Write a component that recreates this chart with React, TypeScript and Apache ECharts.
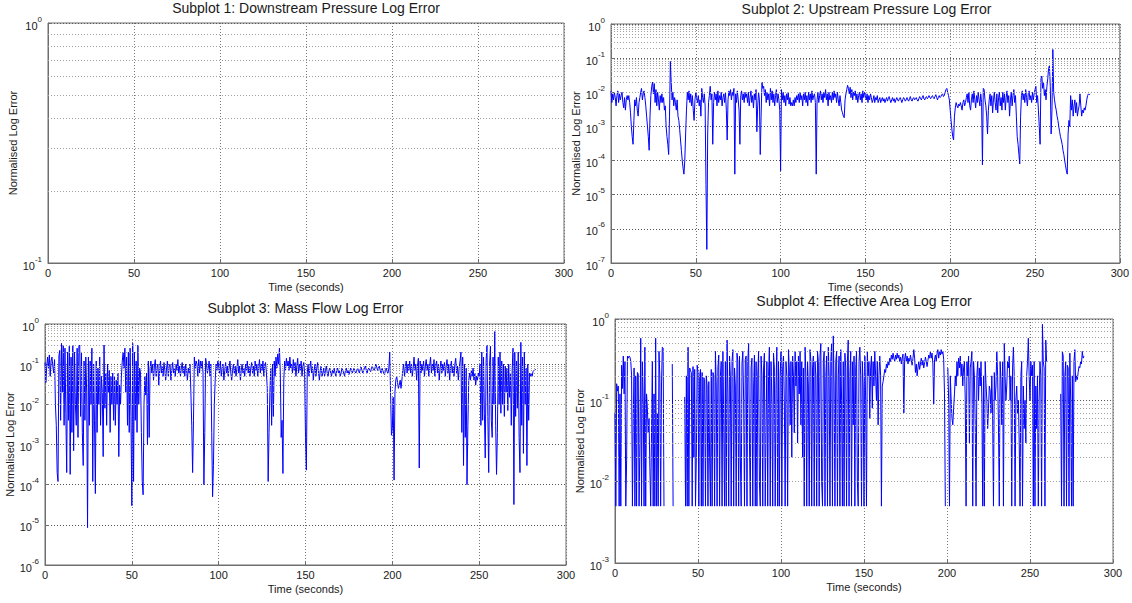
import React, { useEffect, useRef } from "react";
import * as echarts from "echarts";

// ---------------- DATA ----------------
const SAMPLE_STEP = 0.5; // seconds between samples
const F = 0.005; // lower clamp of the effective-area error

const subplotTitles = [
  "Subplot 1: Downstream Pressure Log Error",
  "Subplot 2: Upstream Pressure Log Error",
  "Subplot 3: Mass Flow Log Error",
  "Subplot 4: Effective Area Log Error",
];
const xTickValues = [0, 50, 100, 150, 200, 250, 300];
const yRanges: [number, number][] = [
  [0.1, 1],
  [1e-7, 1],
  [1e-6, 1],
  [1e-3, 1],
];

// Subplot 1: downstream pressure (no samples drawn)
const downstreamError: (number | null)[] = [];

// Subplot 2: upstream pressure, one value per 0.5 s
const upstreamError: (number | null)[] = [
  1.1e-2, 5e-3, 9e-3, 6e-3, 1e-2, 7e-3, 4e-3, 8e-3, 1.1e-2, 5e-3, 9e-3, 6e-3, 8e-3, 1e-2, 5e-3, 3.5e-3, 7e-3, 3e-3, 6e-3, 8e-3,
  6e-3, 8e-3, 5e-3, 2.5e-3, 1e-3, 5e-4, 3e-4, 1.5e-3, 6e-3, 4e-3, 7e-3, 3e-3, 2e-3, 5e-3, 7e-3, 1e-2, 1.3e-2, 6e-3, 9e-3, 1.1e-2,
  7e-3, 4e-3, 2e-3, 1e-3, 5e-4, 2e-4, 2e-3, 8e-3, 1.5e-2, 2e-2, 9e-3, 1.8e-2, 5e-3, 1.2e-2, 4e-3, 1e-2, 6e-3, 3e-3, 8e-3, 5e-3,
  9e-3, 5e-3, 7e-3, 3e-3, 4e-3, 1e-3, 5e-4, 3e-4, 1.5e-4, 2e-3, 8e-2, 2e-2, 6e-3, 1e-2, 4e-3, 7e-3, 5e-3, 3e-3, 6e-3, 2e-3,
  1.5e-3, 8e-4, 4e-4, 2e-4, 1e-4, 6e-5, 4e-5, 1e-4, 6e-4, 3e-3, 1e-2, 6e-3, 1.1e-2, 5e-3, 9e-3, 4e-3, 8e-3, 3e-3, 1.5e-3, 6e-3,
  1e-2, 7e-3, 5e-3, 8e-3, 4e-3, 6e-3, 2e-3, 1.3e-2, 7e-3, 5e-3, 9e-3, 4e-3, 2e-5, 2.5e-7, 6e-4, 5e-3, 8e-3, 1.5e-2, 6e-3, 9e-3,
  3e-4, 5e-3, 1e-2, 6e-3, 9e-3, 4e-3, 1.1e-2, 5e-3, 8e-3, 6e-3, 1e-2, 4e-3, 7e-3, 9e-3, 5e-3, 1e-2, 3e-3, 4e-4, 6e-3, 1.1e-2,
  8e-3, 1.2e-2, 6e-3, 1e-2, 8e-3, 1.3e-2, 4e-5, 9e-3, 5e-3, 1.1e-2, 6e-3, 3e-3, 3e-4, 8e-3, 1.1e-2, 6e-3, 9e-3, 5e-3, 1e-2, 7e-3,
  9e-3, 5e-3, 1e-2, 4e-3, 7e-3, 1.1e-2, 5e-3, 8e-3, 3.5e-3, 9e-3, 6e-3, 1.2e-2, 7e-4, 4e-3, 1e-2, 6e-3, 1.5e-4, 2e-3, 2e-2, 1.3e-2,
  1.5e-2, 8e-3, 1.2e-2, 5e-3, 1e-2, 6e-3, 9e-3, 4e-3, 1.3e-2, 6e-3, 1.1e-2, 5e-3, 9e-3, 4e-3, 8e-3, 1.2e-2, 5e-3, 9e-3, 6e-3, 3e-3,
  5e-5, 1.2e-2, 6e-3, 1e-2, 5e-3, 8e-3, 4e-3, 9e-3, 6e-3, 1e-2, 4.5e-3, 7e-3, 4e-3, 5e-3, 4e-3, 6e-3, 4e-3, 7e-3, 5e-3, 8e-3,
  6e-3, 9e-3, 5e-3, 1e-2, 6e-3, 8e-3, 4e-3, 9e-3, 6e-3, 1e-2, 5e-3, 8e-3, 4e-3, 1e-2, 6e-3, 9e-3, 5e-3, 1.1e-2, 6e-3, 8e-3,
  9e-3, 5e-3, 4e-5, 6e-3, 1e-2, 5e-3, 8e-3, 1.1e-2, 6e-3, 9e-3, 5e-3, 1e-2, 7e-3, 1.2e-2, 6e-3, 9e-3, 4e-3, 1e-2, 6e-3, 8e-3,
  5e-3, 1e-2, 6e-3, 1.1e-2, 7e-3, 9e-3, 5e-3, 1e-2, 6e-3, 4e-3, 8e-3, 5e-3, 3e-3, 2.5e-3, 2e-3, 1.8e-3, 6e-3, 9e-3, 1.2e-2, 1.6e-2,
  1.3e-2, 9e-3, 1.4e-2, 7e-3, 1.2e-2, 6e-3, 1e-2, 8e-3, 1.1e-2, 6e-3, 9e-3, 5e-3, 8e-3, 1e-2, 6e-3, 9e-3, 5e-3, 1.1e-2, 7e-3, 1e-2,
  8e-3, 6e-3, 9e-3, 5e-3, 8e-3, 6e-3, 9e-3, 7e-3, 5e-3, 6e-3, 8e-3, 5e-3, 7e-3, 6e-3, 8e-3, 5e-3, 6e-3, 7e-3, 5e-3, 6e-3,
  7e-3, 5.5e-3, 6.5e-3, 5e-3, 6e-3, 7e-3, 5.5e-3, 6.5e-3, 7.5e-3, 6e-3, 5e-3, 6e-3, 7e-3, 5.5e-3, 6.5e-3, 5e-3, 6e-3, 7e-3, 6e-3, 5.5e-3,
  6.5e-3, 7e-3, 6e-3, 5e-3, 6e-3, 7e-3, 6.5e-3, 5.5e-3, 6e-3, 7e-3, 6e-3, 5.5e-3, 6.5e-3, 7.5e-3, 6e-3, 5.5e-3, 6.5e-3, 7e-3, 6e-3, 6.5e-3,
  7e-3, 6e-3, 5.5e-3, 6.5e-3, 7.5e-3, 6.5e-3, 6e-3, 7e-3, 8e-3, 6.5e-3, 6e-3, 7e-3, 7.5e-3, 6.5e-3, 7e-3, 8e-3, 7e-3, 6.5e-3, 7.5e-3, 8e-3,
  7e-3, 6.5e-3, 7.5e-3, 8.5e-3, 7e-3, 6e-3, 7e-3, 8e-3, 7e-3, 7.5e-3, 8.5e-3, 9e-3, 7.5e-3, 8e-3, 1e-2, 1.2e-2, 1.3e-2, 1e-2, 8e-3, 6e-3,
  3e-3, 1.5e-3, 8e-4, 5e-4, 4e-4, 2e-3, 3.5e-3, 5e-3, 4e-3, 3.5e-3, 4.5e-3, 4e-3, 5e-3, 4e-3, 3e-3, 5e-3, 6e-3, 4e-3, 5e-3, 7e-3,
  9e-3, 5e-3, 1e-2, 4e-3, 3e-3, 6e-3, 9e-3, 5e-3, 1.1e-2, 6e-3, 3.5e-3, 8e-3, 5e-3, 1e-2, 6e-3, 4e-3, 9e-3, 5e-3, 7.5e-5, 1.3e-2,
  1.2e-2, 6e-3, 4e-3, 2e-3, 6e-4, 3e-3, 6e-3, 9e-3, 4e-3, 8e-3, 2.5e-3, 6e-3, 1e-2, 5e-3, 3e-3, 9e-3, 2.5e-3, 7e-3, 1e-2, 4e-3,
  7e-3, 3e-3, 1e-2, 5e-3, 9e-3, 3e-3, 7e-3, 1.1e-2, 5e-3, 8e-3, 2e-3, 6e-3, 1e-2, 4e-3, 8e-3, 1.2e-2, 5e-3, 8e-3, 2e-3, 5e-4,
  3e-4, 1.5e-4, 8e-5, 2e-3, 8e-3, 1.1e-2, 6e-3, 9e-3, 5e-3, 1.2e-2, 7e-3, 4e-3, 9e-3, 1.1e-2, 6e-3, 8e-3, 5e-3, 1e-2, 6e-3, 9e-3,
  1.2e-2, 1.5e-2, 5e-3, 8e-3, 3e-3, 1e-3, 3e-4, 2.5e-2, 3e-2, 1.3e-2, 2e-2, 8e-3, 1.2e-2, 6e-3, 1.5e-2, 2.5e-2, 5e-2, 6e-2, 1.5e-2, 6e-4,
  3e-3, 1.8e-1, 1e-2, 6e-3, 4e-3, 3e-3, 2e-3, 1.5e-3, 1e-3, 7e-4, 5e-4, 4e-4, 3e-4, 2e-4, 1.5e-4, 1e-4, 7e-5, 5e-5, 4e-5, 6e-4,
  1.5e-3, 1e-3, 8e-3, 3e-3, 6e-3, 2e-3, 4e-3, 6e-3, 2.5e-3, 5e-3, 2e-3, 3e-3, 4e-3, 9e-3, 4e-3, 2e-3, 3e-3, 2.5e-3, 3.5e-3, 3e-3,
  4e-3, 6e-3, 8e-3, 9e-3, 8.5e-3, 9e-3,
];

// Subplot 3: mass flow, one value per 0.5 s
const massFlowError: (number | null)[] = [
  0.11, 0.035, 0.09, 0.15, 0.08, 0.17, 0.05, 0.12, 0.15, 0.09, 0.06, 0.13, 0.01, 0.003, 2e-4, 1.2e-4, 0.16, 0.22, 0.004, 0.33,
  0.02, 0.3, 0.003, 0.25, 0.006, 2e-4, 0.2, 0.004, 0.28, 1.8e-4, 0.15, 0.002, 0.3, 7e-4, 0.2, 0.01, 0.003, 0.25, 0.0015, 0.28,
  0.3, 0.005, 0.2, 0.002, 3e-4, 0.12, 0.004, 0.15, 0.02, 8.5e-6, 0.15, 0.003, 0.12, 0.01, 0.25, 1.2e-4, 0.1, 0.004, 6e-5, 0.12,
  0.002, 0.08, 0.01, 0.15, 0.003, 0.05, 0.02, 5e-4, 0.3, 0.008, 0.06, 0.003, 0.1, 0.02, 0.07, 0.002, 0.05, 0.01, 0.06, 0.004,
  0.05, 0.003, 0.04, 0.01, 0.06, 5e-4, 0.03, 0.01, 0.05, 0.12, 0.2, 0.08, 0.25, 0.02, 0.15, 0.003, 0.2, 0.002, 0.25, 0.005,
  3e-5, 0.33, 1.2e-4, 0.2, 0.004, 0.12, 0.002, 0.3, 0.01, 0.08, 0.06, 0.002, 1.2e-4, 5.6e-5, 0.01, 0.05, 0.017, 0.06, 1e-3, 0.12,
  0.0015, 0.08, 0.12, 0.06, 0.1, 0.04, 0.09, 0.13, 0.05, 0.08, 0.1, 0.03, 0.07, 0.12, 0.06, 0.09, 0.05, 0.11, 0.07, 0.04,
  0.08, 0.12, 0.05, 0.09, 0.1, 0.04, 0.07, 0.11, 0.06, 0.08, 0.05, 0.1, 0.07, 0.13, 0.06, 0.09, 0.05, 0.08, 0.11, 0.06,
  0.09, 0.05, 0.1, 0.07, 0.04, 0.08, 0.06, 0.1, 0.02, 0.003, 2e-4, 0.004, 0.15, 0.08, 0.12, 0.1, 0.05, 0.13, 0.06, 0.12,
  0.08, 0.12, 0.06, 1e-4, 0.002, 0.14, 0.1, 0.06, 0.08, 0.12, 0.05, 0.1, 0.002, 5e-5, 3e-4, 0.01, 0.04, 0.1, 0.07, 0.12,
  0.09, 0.06, 0.12, 0.05, 0.08, 0.1, 0.04, 0.07, 0.11, 0.06, 0.09, 0.05, 0.08, 0.12, 0.06, 0.04, 0.07, 0.1, 0.06, 0.09,
  0.05, 0.08, 0.13, 0.06, 0.09, 0.04, 0.07, 0.1, 0.06, 0.08, 0.05, 0.1, 0.07, 0.12, 0.06, 0.09, 0.05, 0.08, 0.11, 0.06,
  0.09, 0.05, 0.12, 0.07, 0.1, 0.05, 0.08, 0.13, 0.06, 0.1, 0.07, 0.12, 0.05, 0.09, 0.11, 0.06, 0.025, 1.2e-4, 0.002, 0.02,
  0.08, 0.003, 0.1, 0.005, 0.12, 0.05, 0.15, 0.08, 0.18, 0.1, 0.25, 0.06, 0.0015, 0.004, 1.9e-4, 0.04, 0.12, 0.07, 0.14, 0.09,
  0.12, 0.07, 0.15, 0.08, 0.1, 0.06, 0.13, 0.07, 0.11, 0.05, 0.09, 0.14, 0.06, 0.1, 0.07, 0.12, 0.05, 0.09, 0.11, 0.06,
  0.0015, 2.3e-4, 0.06, 0.1, 0.05, 0.08, 0.12, 0.06, 0.09, 0.04, 0.07, 0.1, 0.05, 0.08, 0.11, 0.06, 0.04, 0.07, 0.09, 0.05,
  0.06, 0.08, 0.05, 0.07, 0.09, 0.06, 0.05, 0.07, 0.08, 0.06, 0.05, 0.07, 0.06, 0.08, 0.06, 0.05, 0.07, 0.08, 0.06, 0.07,
  0.05, 0.06, 0.08, 0.07, 0.06, 0.05, 0.07, 0.08, 0.06, 0.07, 0.055, 0.065, 0.08, 0.07, 0.06, 0.07, 0.08, 0.065, 0.06, 0.07,
  0.08, 0.07, 0.06, 0.075, 0.085, 0.07, 0.06, 0.07, 0.08, 0.09, 0.07, 0.06, 0.075, 0.08, 0.07, 0.065, 0.08, 0.09, 0.075, 0.07,
  0.08, 0.1, 0.085, 0.07, 0.08, 0.09, 0.07, 0.06, 0.08, 0.07, 0.06, 0.055, 0.07, 0.08, 0.065, 0.06, 0.08, 0.2, 0.017, 1.7e-3,
  2.5e-3, 0.015, 1.3e-4, 0.02, 0.04, 0.05, 0.035, 0.025, 0.03, 0.04, 0.025, 0.04, 0.07, 0.1, 0.05, 0.08, 0.12, 0.06, 0.1, 0.07,
  0.12, 0.06, 0.1, 0.05, 0.08, 0.15, 0.07, 0.1, 0.04, 0.09, 0.14, 2.6e-4, 0.12, 0.06, 0.1, 0.07, 0.12, 0.05, 0.09, 0.13,
  0.07, 0.1, 0.05, 0.09, 0.15, 0.06, 0.1, 0.07, 0.13, 0.05, 0.09, 0.12, 0.06, 0.1, 0.04, 0.08, 0.12, 0.06, 0.1, 0.07,
  0.11, 0.05, 0.09, 0.13, 0.06, 0.1, 0.04, 0.08, 0.12, 0.06, 0.09, 0.05, 0.1, 0.14, 0.06, 0.09, 0.04, 0.08, 0.12, 0.2,
  0.002, 0.15, 3e-4, 0.1, 0.0015, 0.08, 1e-4, 0.003, 0.04, 0.06, 0.04, 0.07, 0.05, 0.08, 0.04, 0.06, 0.03, 0.05, 0.04, 0.06,
  0.05, 0.1, 0.003, 0.2, 0.004, 0.15, 0.006, 4.6e-4, 0.12, 0.3, 0.005, 2e-4, 0.1, 0.28, 0.004, 0.0015, 0.15, 0.01, 0.65, 0.003,
  1.8e-4, 0.002, 0.15, 0.01, 0.2, 0.006, 0.12, 0.01, 0.1, 0.005, 0.09, 0.02, 0.08, 0.007, 0.1, 0.015, 0.06, 0.003, 0.07, 0.25,
  3.2e-5, 0.2, 0.005, 0.12, 0.008, 0.2, 0.0015, 2e-4, 0.35, 0.003, 0.15, 6e-4, 0.2, 0.01, 0.08, 3e-4, 0.1, 0.004, 0.06, 0.05,
  0.06, 0.05, 0.065, 0.07, 0.07, 0.075,
];

// Subplot 4: effective area, one value per 0.5 s (null = no sample)
const effectiveAreaError: (number | null)[] = [
  0.07, F, 0.16, 0.13, 0.15, F, 0.12, F, 0.27, 0.14, 0.35, 0.12, 0.3, F, 0.018, 0.35, 0.33, 0.35, 0.34, 0.3,
  0.2, F, 0.06, 0.25, F, 0.2, F, 0.22, 0.21, F, 0.03, 0.58, F, 0.3, 0.1, F, 0.45, F, 0.12, 0.08,
  0.04, 0.06, 0.015, F, 0.04, 0.3, F, 0.12, F, 0.58, F, 0.07, F, 0.4, 0.2, F, 0.15, 0.45, 0.44, F,
  null, null, null, null, null, null, null, null, null, 0.28, F, null, null, null, null, null, null, null, null, null,
  null, null, null, null, 0.11, F, 0.2, F, 0.45, F, 0.25, 0.23, 0.22, F, 0.26, 0.02, 0.24, F, 0.02, 0.27,
  0.22, F, 0.2, 0.24, F, 0.22, F, 0.19, 0.18, F, 0.2, 0.15, F, 0.17, 0.02, F, 0.24, F, 0.22, 0.2,
  F, 0.4, 0.15, F, 0.25, 0.36, F, 0.2, 0.3, F, 0.4, 0.05, F, 0.3, F, 0.55, 0.12, F, 0.35, 0.2,
  F, 0.3, 0.42, F, 0.25, 0.15, F, 0.38, 0.3, F, 0.35, 0.02, F, 0.28, 0.4, 0.1, F, 0.32, 0.35, F,
  0.3, 0.5, 0.03, F, 0.25, 0.33, F, 0.15, 0.36, F, 0.3, F, 0.2, 0.4, 0.01, F, 0.35, 0.2, F, 0.25,
  0.38, F, 0.05, 0.3, F, 0.2, 0.45, F, 0.3, 0.1, F, 0.38, 0.25, F, 0.15, 0.45, F, 0.3, F, 0.2,
  0.4, F, 0.25, 0.35, 0.1, F, 0.3, 0.2, F, 0.42, 0.25, 0.05, 0.3, 0.02, 0.35, 0.2, 0.04, 0.4, 0.15, 0.3,
  0.03, 0.35, 0.12, 0.4, 0.05, 0.3, 0.02, 0.25, F, 0.45, 0.2, F, 0.3, 0.15, F, 0.42, 0.3, F, 0.25, 0.35,
  F, 0.3, 0.2, F, 0.4, 0.3, F, 0.35, 0.5, 0.01, F, 0.3, 0.4, F, 0.2, 0.35, F, 0.45, 0.2, F,
  0.3, 0.5, F, 0.62, 0.15, F, 0.3, 0.4, F, 0.2, 0.35, F, 0.42, 0.1, F, 0.3, F, 0.38, 0.25, F,
  0.3, 0.55, F, 0.2, 0.4, F, 0.3, 0.05, 0.35, F, 0.25, 0.4, 0.01, F, 0.3, 0.45, 0.2, F, 0.3, 0.15,
  F, 0.35, 0.1, F, 0.4, 0.2, 0.3, 0.06, 0.25, 0.35, 0.08, 0.3, 0.15, 0.4, 0.2, 0.1, 0.3, 0.05, 0.2, 0.35,
  0.2, F, 0.15, 0.17, 0.2, 0.24, 0.22, 0.28, 0.25, 0.3, 0.27, 0.33, 0.3, 0.36, 0.32, 0.38, 0.33, 0.3, 0.36, 0.32,
  0.38, 0.33, 0.36, 0.3, 0.34, 0.28, 0.33, 0.37, 0.07, 0.32, 0.38, 0.3, 0.35, 0.28, 0.33, 0.3, 0.36, 0.31, 0.27, 0.33,
  0.42, 0.33, 0.22, 0.28, 0.2, 0.25, 0.3, 0.24, 0.28, 0.33, 0.27, 0.31, 0.25, 0.29, 0.34, 0.3, 0.26, 0.31, 0.36, 0.33,
  0.4, 0.33, 0.38, 0.28, 0.09, 0.32, 0.36, 0.3, 0.38, 0.42, 0.33, 0.4, 0.36, 0.42, 0.37, 0.4, 0.32, 0.12, F, null,
  null, 0.25, 0.1, F, 0.2, 0.1, 0.06, 0.05, 0.08, 0.12, 0.2, 0.15, 0.3, 0.2, 0.33, 0.25, 0.35, 0.2, 0.28, 0.15,
  0.25, 0.3, 0.1, F, 0.3, 0.2, 0.35, 0.03, 0.25, 0.3, 0.4, F, 0.3, 0.2, 0.05, F, 0.2, 0.3, 0.1, 0.25,
  0.15, 0.3, 0.1, F, 0.2, F, 0.3, 0.16, 0.1, 0.045, 0.08, 0.15, 0.13, 0.07, 0.2, 0.065, F, 0.22, 0.1, 0.15,
  0.4, 0.2, 0.05, F, 0.3, 0.18, 0.05, 0.3, F, 0.5, 0.2, 0.1, 0.15, 0.3, 0.25, 0.35, 0.1, 0.2, F, 0.25,
  0.45, 0.2, F, 0.1, 0.15, 0.07, 0.1, 0.03, F, 0.2, 0.3, F, 0.15, 0.045, 0.1, 0.03, 0.2, 0.3, 0.58, 0.2,
  0.1, 0.3, 0.2, 0.27, F, 0.3, F, 0.15, 0.045, 0.2, F, 0.1, 0.3, 0.2, F, 0.86, 0.3, 0.25, F, 0.55,
  0.3, null, null, null, null, null, null, null, null, null, null, null, null, null, null, null, null, 0.12, F, 0.4,
  0.35, F, 0.2, 0.3, F, 0.27, 0.25, F, 0.38, 0.1, F, 0.2, F, 0.3, 0.42, 0.17, 0.2, 0.18, 0.22, 0.26,
  0.25, 0.3, 0.28, 0.4, 0.33, 0.35,
];

const seriesValues = [downstreamError, upstreamError, massFlowError, effectiveAreaError];

// ---------------- LAYOUT / STYLE ----------------
const FONT = "'Liberation Sans', Arial, Helvetica, sans-serif";
const TXT = "#1a1a1a";
const FRAME = "#6e6e6e";
const LINE_BLUE = "#0000ff";

const GRIDS = [
  { left: 48, top: 23, width: 516, height: 240 },
  { left: 611, top: 24, width: 511, height: 239 },
  { left: 45, top: 324, width: 521, height: 241 },
  { left: 615, top: 319, width: 498, height: 244 },
];
const TITLE_TOPS = [1, 2, 301, 294];

function minorValues(range: [number, number]): number[] {
  const out: number[] = [];
  const e0 = Math.round(Math.log10(range[0]));
  const e1 = Math.round(Math.log10(range[1]));
  for (let e = e0; e < e1; e++) {
    for (let m = 2; m <= 9; m++) out.push(Number((m * Math.pow(10, e)).toPrecision(3)));
  }
  return out;
}

function toPairs(values: (number | null)[]) {
  return values.map((v, i) => [i * SAMPLE_STEP, v === null ? "-" : v]);
}

function buildOption() {
  const grid = GRIDS.map((g) => ({
    ...g,
    show: true,
    borderColor: FRAME,
    borderWidth: 1,
    backgroundColor: "#ffffff",
    containLabel: false,
  }));

  const title = subplotTitles.map((t, i) => ({
    text: t,
    left: GRIDS[i].left + GRIDS[i].width / 2,
    top: TITLE_TOPS[i],
    textAlign: "center",
    padding: 0,
    textStyle: { fontFamily: FONT, fontSize: 14, fontWeight: "normal", color: TXT },
  }));

  const xAxis = GRIDS.map((_, i) => ({
    type: "value",
    gridIndex: i,
    min: xTickValues[0],
    max: xTickValues[xTickValues.length - 1],
    interval: 50,
    name: "Time (seconds)",
    nameLocation: "middle",
    nameGap: 18,
    nameTextStyle: { fontFamily: FONT, fontSize: 11, color: TXT },
    axisLine: { show: true, lineStyle: { color: FRAME, width: 1 } },
    axisTick: { show: true, inside: true, length: 4, lineStyle: { color: FRAME } },
    axisLabel: { fontFamily: FONT, fontSize: 11, color: TXT, margin: 4 },
    splitLine: { show: true, lineStyle: { color: "#777", type: [1, 2], width: 1 } },
  }));

  const yAxis = GRIDS.map((_, i) => ({
    type: "log",
    logBase: 10,
    gridIndex: i,
    min: yRanges[i][0],
    max: yRanges[i][1],
    name: "Normalised Log Error",
    nameLocation: "middle",
    nameGap: 30,
    nameTextStyle: { fontFamily: FONT, fontSize: 11, color: TXT },
    axisLine: { show: true, lineStyle: { color: FRAME, width: 1 } },
    axisTick: { show: true, inside: true, length: 4, lineStyle: { color: FRAME } },
    axisLabel: {
      margin: 6,
      formatter: (v: number) => `{b|10}{s|${Math.round(Math.log10(v))}}`,
      rich: {
        b: { fontFamily: FONT, fontSize: 11, color: TXT, lineHeight: 16, verticalAlign: "bottom" },
        s: { fontFamily: FONT, fontSize: 8, color: TXT, verticalAlign: "top" },
      },
    },
    splitLine: { show: true, lineStyle: { color: "#555", type: [1, 2], width: 1 } },
  }));

  const helperSeries = GRIDS.map((_, i) => ({
    type: "line",
    name: "grid" + i,
    xAxisIndex: i,
    yAxisIndex: i,
    data: [],
    silent: true,
    z: 1,
    markLine: {
      silent: true,
      symbol: ["none", "none"],
      label: { show: false },
      emphasis: { disabled: true },
      lineStyle: { color: "#a0a0a0", type: [1, 2], width: 1 },
      data: minorValues(yRanges[i]).map((v) => ({ yAxis: v })),
      animation: false,
    },
  }));

  const dataSeries = seriesValues.map((vals, i) => ({
    type: "line",
    name: subplotTitles[i],
    xAxisIndex: i,
    yAxisIndex: i,
    data: toPairs(vals),
    showSymbol: false,
    symbol: "none",
    connectNulls: false,
    z: 3,
    lineStyle: { color: LINE_BLUE, width: 1 },
    itemStyle: { color: LINE_BLUE },
    emphasis: { disabled: true },
  }));

  return {
    animation: false,
    backgroundColor: "#ffffff",
    textStyle: { fontFamily: FONT },
    title,
    grid,
    xAxis,
    yAxis,
    series: [...helperSeries, ...dataSeries],
  };
}

export default function App() {
  const ref = useRef<HTMLDivElement>(null);
  useEffect(() => {
    if (!ref.current) return;
    const chart = echarts.init(ref.current, undefined, { renderer: "svg" });
    chart.setOption(buildOption() as any);
    return () => chart.dispose();
  }, []);
  return (
    <div
      ref={ref}
      style={{ position: "fixed", left: 0, top: 0, width: 1132, height: 603, background: "#fff" }}
    />
  );
}
